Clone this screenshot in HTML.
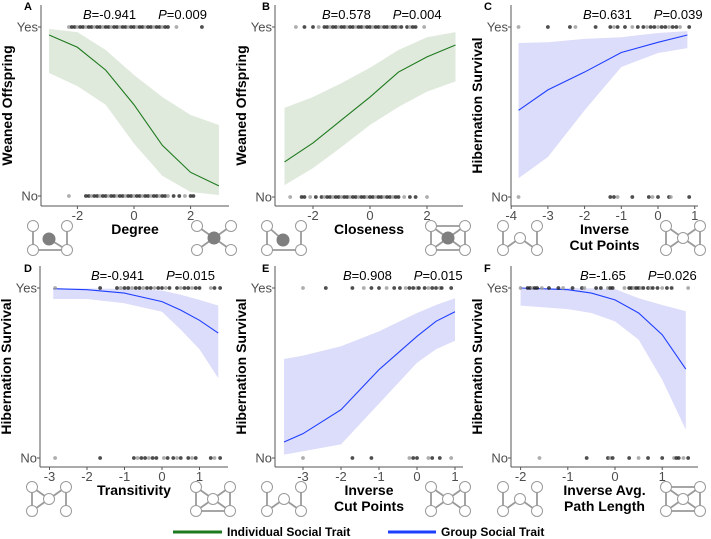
<!DOCTYPE html>
<html><head><meta charset="utf-8">
<style>
html,body{margin:0;padding:0;background:#fff;}
svg{display:block;font-family:"Liberation Sans",Arial,sans-serif;}
</style></head>
<body>
<svg id="fig" width="711" height="539" viewBox="0 0 711 539"></svg>
<script>
// ---------- DATA ----------
const panelLetters = ["A","B","C","D","E","F"];
const yLabels = ["Weaned Offspring","Weaned Offspring","Hibernation Survival","Hibernation Survival","Hibernation Survival","Hibernation Survival"];
const xLabelsTop = ["Degree","Closeness","Inverse","Transitivity","Inverse","Inverse Avg."];
const xLabelsBot = ["","","Cut Points","","Cut Points","Path Length"];
const coefB = ["-0.941","0.578","0.631","-0.941","0.908","-1.65"];
const coefP = ["0.009","0.004","0.039","0.015","0.015","0.026"];
const ticksA = [-2,0,2];
const ticksB = [-2,0,2];
const ticksC = [-4,-3,-2,-1,0,1];
const ticksD = [-3,-2,-1,0,1];
const ticksE = [-3,-2,-1,0,1];
const ticksF = [-2,-1,0,1];

const fitXA = [-3,-2,-1,0,1,2,3];
const fitA  = [0.953,0.88,0.745,0.54,0.30,0.14,0.06];
const upA   = [0.988,0.97,0.864,0.716,0.586,0.479,0.42];
const loA   = [0.728,0.65,0.54,0.31,0.12,0.024,0.006];

const fitXB = [-3,-2,-1,0,1,2,3];
const fitB  = [0.206,0.318,0.453,0.588,0.735,0.824,0.894];
const upB   = [0.524,0.588,0.67,0.76,0.865,0.94,0.97];
const loB   = [0.07,0.17,0.294,0.424,0.53,0.62,0.68];

const fitXC = [-3.8,-3,-2,-1,0,0.8];
const fitC  = [0.51,0.63,0.735,0.85,0.91,0.953];
const upC   = [0.906,0.91,0.93,0.94,0.965,0.976];
const loC   = [0.11,0.235,0.51,0.765,0.847,0.876];

const fitXD = [-2.9,-2,-1,0,0.5,1,1.5];
const fitD  = [0.996,0.99,0.97,0.92,0.87,0.81,0.735];
const upD   = [0.998,0.997,0.995,0.985,0.96,0.93,0.896];
const loD   = [0.935,0.935,0.91,0.86,0.755,0.64,0.47];

const fitXE = [-3.5,-3,-2,-1,0,0.5,1];
const fitE  = [0.094,0.143,0.284,0.52,0.716,0.804,0.86];
const upE   = [0.582,0.602,0.657,0.745,0.853,0.90,0.94];
const loE   = [0.02,0.04,0.08,0.32,0.56,0.64,0.69];

const fitXF = [-2,-1,-0.5,0,0.5,1,1.5];
const fitF  = [1.0,0.99,0.97,0.93,0.853,0.725,0.523];
const upF   = [1.0,1.0,0.998,0.994,0.94,0.90,0.863];
const loF   = [0.896,0.876,0.853,0.804,0.696,0.46,0.167];

const yesA = [-2.3,-2.2,-2.1,-2.0,-1.9,-1.8,-1.7,-1.6,-1.5,-1.4,-1.3,-1.2,-1.1,-1.0,-0.9,-0.8,-0.7,-0.6,-0.5,-0.4,-0.3,-0.2,-0.1,0,0.1,0.2,0.3,0.4,0.5,0.6,0.7,0.8,0.9,1.0,1.1,1.2,1.5,2.4];
const noA  = [-2.3,-1.7,-1.6,-1.5,-1.4,-1.3,-1.2,-1.1,-1.0,-0.9,-0.8,-0.7,-0.6,-0.5,-0.4,-0.3,-0.2,-0.1,0,0.1,0.2,0.3,0.4,0.5,0.6,0.7,0.8,0.9,1.0,1.1,1.2,1.4,1.6,1.8,2.0,2.1];
const yesB = [-2.6,-2.3,-2.0,-1.8,-1.6,-1.5,-1.4,-1.3,-1.2,-1.1,-1.0,-0.9,-0.8,-0.7,-0.6,-0.5,-0.4,-0.3,-0.2,-0.1,0,0.1,0.2,0.3,0.4,0.5,0.6,0.7,0.8,0.9,1.0,1.1,1.3,1.4,1.5,1.6,1.9];
const noB  = [-2.8,-2.4,-2.3,-2.1,-1.9,-1.7,-1.6,-1.5,-1.4,-1.3,-1.2,-1.1,-1.0,-0.9,-0.8,-0.7,-0.6,-0.5,-0.4,-0.3,-0.2,-0.1,0,0.1,0.2,0.3,0.4,0.5,0.6,0.7,0.8,0.9,1.0,1.2,1.4,1.6,2.0];
const yesC = [-3.8,-3.0,-2.4,-2.25,-1.7,-1.3,-1.2,-1.1,-0.9,-0.7,-0.55,-0.4,-0.3,-0.2,-0.1,0,0.1,0.2,0.3,0.4,0.5,0.6,0.85];
const noC  = [-3.8,-1.3,-1.2,-1.1,-0.7,-0.25,-0.15,0,0.3,0.35,0.85];
const yesD = [-2.85,-1.65,-1.2,-1.1,-1.0,-0.9,-0.8,-0.7,-0.6,-0.5,-0.4,-0.3,-0.2,-0.1,0,0.1,0.2,0.4,0.5,0.6,0.7,0.8,0.9,1.0,1.3,1.4,1.55];
const noD  = [-2.85,-1.65,-0.75,-0.65,-0.55,-0.45,-0.35,-0.25,-0.15,0.05,0.15,0.3,0.4,0.5,0.7,0.8,0.9,1.3,1.4,1.55];
const yesE = [-3.0,-2.4,-1.7,-1.4,-1.2,-1.0,-0.8,-0.6,-0.45,-0.3,-0.2,-0.1,0,0.05,0.2,0.3,0.4,0.5,0.6,0.65,0.9];
const noE  = [-3.0,-1.7,-1.2,-0.2,-0.1,0,0.3,0.4,0.6,0.9];
const yesF = [-2.0,-1.85,-1.8,-1.75,-1.7,-1.65,-1.55,-1.4,-1.2,-1.1,-0.9,-0.7,-0.65,-0.4,-0.3,-0.15,-0.1,-0.05,0.2,0.3,0.35,0.4,0.45,0.5,0.55,0.6,0.7,0.75,0.8,0.9,1.0,1.1,1.2,1.55];
const noF  = [-1.6,-0.6,-0.15,-0.1,-0.05,0.3,0.5,0.7,1.0,1.25,1.3,1.35,1.45,1.55];
</script>
<script>
const NS="http://www.w3.org/2000/svg";
const svg=document.getElementById('fig');
function mk(tag,attrs,parent){const e=document.createElementNS(NS,tag);for(const k in attrs)e.setAttribute(k,attrs[k]);(parent||svg).appendChild(e);return e;}
// layout (not data)
const layout=[
 {ax:41,right:229,x0:134,ux:28.3,yes:27,no:196,axisY:206,top:5,green:true,ticks:ticksA,fx:fitXA,f:fitA,u:upA,l:loA,ys:yesA,ns:noA,letterX:24,letterY:10,annX:83,iconL:"degLow",iconR:"star"},
 {ax:275,right:463,x0:370,ux:28.5,yes:27,no:197,axisY:206,top:5,green:true,ticks:ticksB,fx:fitXB,f:fitB,u:upB,l:loB,ys:yesB,ns:noB,letterX:262,letterY:10,annX:322,iconL:"closeLow",iconR:"closeHigh"},
 {ax:511,right:698,x0:658,ux:36.7,yes:27,no:197,axisY:206,top:5,green:false,ticks:ticksC,fx:fitXC,f:fitC,u:upC,l:loC,ys:yesC,ns:noC,letterX:484,letterY:10,annX:583,iconL:"cutLow",iconR:"cutHigh"},
 {ax:40,right:228,x0:162,ux:37.5,yes:288,no:458,axisY:467,top:266,green:false,ticks:ticksD,fx:fitXD,f:fitD,u:upD,l:loD,ys:yesD,ns:noD,letterX:24,letterY:272,annX:91,iconL:"transLow",iconR:"transHigh"},
 {ax:275,right:463,x0:417,ux:38,yes:288,no:458,axisY:467,top:266,green:false,ticks:ticksE,fx:fitXE,f:fitE,u:upE,l:loE,ys:yesE,ns:noE,letterX:262,letterY:272,annX:343,iconL:"cutLow",iconR:"cutHigh"},
 {ax:511,right:698,x0:615,ux:47.2,yes:288,no:458,axisY:467,top:266,green:false,ticks:ticksF,fx:fitXF,f:fitF,u:upF,l:loF,ys:yesF,ns:noF,letterX:484,letterY:272,annX:580,iconL:"cutLow",iconR:"pathHigh"}
];
const icons={
 degLow:{n:[[0,0],[34,0],[0,24],[34,24],[16,13]],f:4,e:[[0,2],[2,3],[4,3],[1,3]]},
 star:{n:[[0,0],[34,0],[0,24],[34,24],[17,12]],f:4,e:[[0,4],[1,4],[2,4],[3,4]]},
 closeLow:{n:[[0,0],[34,0],[0,24],[34,24],[16,14]],f:4,e:[[0,4],[0,2],[2,3],[1,3]]},
 closeHigh:{n:[[0,0],[34,0],[0,24],[34,24],[17,12]],f:4,e:[[0,1],[2,3],[0,2],[1,3],[0,4],[1,4],[2,4],[3,4]]},
 cutLow:{n:[[0,0],[0,24],[17,12],[34,24],[34,0]],f:-1,e:[[0,1],[1,2],[2,3],[3,4]]},
 cutHigh:{n:[[0,0],[34,0],[0,24],[34,24],[17,12]],f:-1,e:[[0,2],[1,3],[0,4],[1,4],[2,4],[3,4]]},
 transLow:{n:[[0,0],[0,24],[17,12],[34,0],[34,24]],f:-1,e:[[0,1],[0,2],[1,2],[2,3],[3,4]]},
 transHigh:{n:[[0,0],[34,0],[0,24],[34,24],[17,12]],f:-1,e:[[0,2],[2,3],[1,3],[0,4],[1,4],[2,4],[3,4]]},
 pathHigh:{n:[[0,0],[34,0],[0,24],[34,24],[17,12]],f:-1,e:[[0,1],[2,3],[0,2],[1,3],[0,4],[1,4],[2,4],[3,4]]}
};
function drawIcon(name,ox,oy,dn){
 const g=mk('g',{transform:`translate(${ox},${oy})`});
 
 
 const ic=icons[name];
 ic.e.forEach(([a,b])=>mk('line',{x1:ic.n[a][0],y1:ic.n[a][1],x2:ic.n[b][0],y2:ic.n[b][1],stroke:'#9a9a9a','stroke-width':1.8},g));
 ic.n.forEach((p,i)=>mk('circle',{cx:p[0],cy:p[1],r:i===ic.f?6:5.5,fill:i===ic.f?'#7f7f7f':'#fff',stroke:i===ic.f?'#7f7f7f':'#9a9a9a','stroke-width':1},g));
}
layout.forEach((L,i)=>{
 const g=mk('g',{});
 
 
 const X=v=>L.x0+v*L.ux, Y=p=>L.no-p*(L.no-L.yes);
 const col=L.green?'#1e7a1e':'#1f3fff', band=L.green?'#dfe9dc':'#dcdcfb';
 let d='M'+L.fx.map((v,k)=>X(v)+','+Y(L.u[k])).join('L');
 for(let k=L.fx.length-1;k>=0;k--)d+='L'+X(L.fx[k])+','+Y(L.l[k]);
 const b=mk('path',{d:d+'Z',fill:band},g);
 
 
 const ln=mk('polyline',{points:L.fx.map((v,k)=>X(v)+','+Y(L.f[k])).join(' '),fill:'none',stroke:col,'stroke-width':1.1},g);
 
 
 [[L.ys,L.yes],[L.ns,L.no]].forEach(([arr,yy])=>arr.forEach((v,k)=>{
  const c=mk('circle',{cx:X(v),cy:yy,r:1.9,fill:k%3===0?'#9a9a9a':'#222','fill-opacity':0.8},g);
  
  
 }));
 mk('line',{x1:L.ax,y1:L.top,x2:L.ax,y2:L.axisY,stroke:'#555','stroke-width':1},g);
 mk('line',{x1:L.ax,y1:L.axisY,x2:L.right,y2:L.axisY,stroke:'#555','stroke-width':1},g);
 [['Yes',L.yes],['No',L.no]].forEach(([t,yy])=>{
  mk('line',{x1:L.ax-3,y1:yy,x2:L.ax,y2:yy,stroke:'#555'},g);
  const tx=mk('text',{x:L.ax-3,y:yy+4.5,'text-anchor':'end','font-size':13,fill:'#4d4d4d'},g);tx.textContent=t;
  
  
 });
 L.ticks.forEach(t=>{
  mk('line',{x1:X(t),y1:L.axisY,x2:X(t),y2:L.axisY+3,stroke:'#555'},g);
  const tx=mk('text',{x:X(t),y:L.axisY+14,'text-anchor':'middle','font-size':13,fill:'#4d4d4d'},g);tx.textContent=t<0?'-'+Math.abs(t):t;
  
  
 });
 const mid=(L.ax+L.right)/2;
 const xl=mk('text',{x:mid,y:L.axisY+28,'text-anchor':'middle','font-size':14,'font-weight':'bold'},g);xl.textContent=xLabelsTop[i];
 
 
 if(xLabelsBot[i]){const x2=mk('text',{x:mid,y:L.axisY+44,'text-anchor':'middle','font-size':14,'font-weight':'bold'},g);x2.textContent=xLabelsBot[i];
  
  }
 const cy=(L.top+L.axisY)/2;
 const yl=mk('text',{x:0,y:0,transform:`translate(${L.ax-29},${cy}) rotate(-90)`,'text-anchor':'middle','font-size':14,'font-weight':'bold'},g);yl.textContent=yLabels[i];
 
 
 const lt=mk('text',{x:L.letterX,y:L.letterY,'font-size':11,'font-weight':'bold'},g);lt.textContent=panelLetters[i];
 
 
 const an=mk('text',{x:L.annX,y:L.top+14,'font-size':13},g);
 
 
 an.innerHTML=`<tspan font-style="italic">B</tspan>=${coefB[i]}<tspan dx="22" font-style="italic">P</tspan>=${coefP[i]}`;
 drawIcon(L.iconL,L.ax-8,L.axisY+20,'network-icon-low');
 drawIcon(L.iconR,L.right-32,L.axisY+20,'network-icon-high');
});
const lg=mk('g',{});


mk('line',{x1:173,y1:532,x2:222,y2:532,stroke:'#1e7a1e','stroke-width':3},lg);
const l1=mk('text',{x:227,y:536,'font-size':12,'font-weight':'bold'},lg);l1.textContent='Individual Social Trait';


mk('line',{x1:388,y1:532,x2:436,y2:532,stroke:'#1f3fff','stroke-width':3},lg);
const l2=mk('text',{x:441,y:536,'font-size':12,'font-weight':'bold'},lg);l2.textContent='Group Social Trait';


</script>
</body></html>
